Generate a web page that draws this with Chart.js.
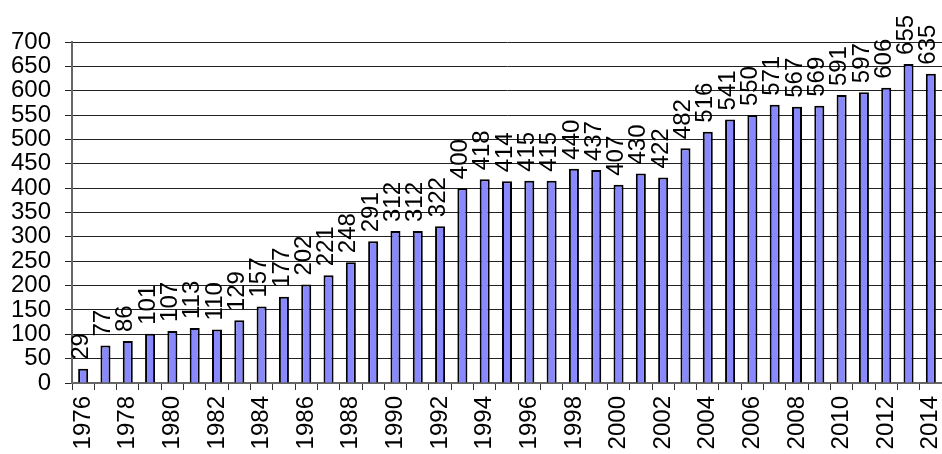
<!DOCTYPE html>
<html>
<head>
<meta charset="utf-8">
<script src="https://cdn.jsdelivr.net/npm/chart.js@4"></script>
<style>
  html, body { margin: 0; padding: 0; background: #fff; }
  #wrap { width: 942px; height: 454px; }
</style>
</head>
<body>
<div id="wrap"><canvas id="chart"></canvas></div>
<script>
const years = [];
for (let y = 1976; y <= 2014; y++) years.push(String(y));
const counts = [29, 77, 86, 101, 107, 113, 110, 129, 157, 177, 202, 221, 248, 291, 312, 312, 322,
  400, 418, 414, 415, 415, 440, 437, 407, 430, 422, 482, 516, 541, 550, 571, 567, 569, 591, 597, 606, 655, 635];
const yTicks = [0, 50, 100, 150, 200, 250, 300, 350, 400, 450, 500, 550, 600, 650, 700];

const FONT = "'Liberation Sans', Arial, sans-serif";

// value labels written upright above each bar
const barLabels = {
  id: "barLabels",
  afterDatasetsDraw(chart) {
    const ctx = chart.ctx;
    const meta = chart.getDatasetMeta(0);
    ctx.save();
    ctx.font = "24px " + FONT;
    ctx.fillStyle = "#000";
    ctx.textAlign = "left";
    ctx.textBaseline = "middle";
    meta.data.forEach((bar, i) => {
      ctx.save();
      ctx.translate(bar.x - 2, bar.y - 9);
      ctx.rotate(-Math.PI / 2);
      ctx.fillText(counts[i], 0, 0);
      ctx.restore();
    });
    ctx.restore();
  }
};

new Chart(document.getElementById("chart"), {
  type: "bar",
  data: {
    labels: years,
    datasets: [{
      data: counts,
      backgroundColor: "#8888ff",
      borderColor: "#000",
      borderWidth: 2,
      barPercentage: 0.45,
      categoryPercentage: 1.0
    }]
  },
  options: {
    responsive: true,
    maintainAspectRatio: false,
    animation: false,
    layout: { padding: { top: 42, right: 0, left: 0, bottom: 0 } },
    plugins: { legend: { display: false }, tooltip: { enabled: false } },
    scales: {
      x: {
        afterFit(scale) {
          scale.height = 71;
          scale.paddingLeft = 0;
          scale.paddingRight = 0;
        },
        grid: { offset: true, drawOnChartArea: false, tickLength: 7, color: "#333" },
        border: { color: "#666", width: 2 },
        ticks: {
          autoSkip: false,
          minRotation: 90,
          maxRotation: 90,
          color: "#000",
          padding: 6,
          font: { family: FONT, size: 24 },
          callback: function (v, i) { return i % 2 === 0 ? years[i] : ""; }
        }
      },
      y: {
        min: 0,
        max: 700,
        afterFit(scale) { scale.width = 72; },
        afterBuildTicks(scale) { scale.ticks = yTicks.map(v => ({ value: v })); },
        grid: { color: "#222", tickLength: 7, lineWidth: 1 },
        border: { color: "#666", width: 2 },
        ticks: {
          autoSkip: false,
          color: "#000",
          padding: 14,
          font: { family: FONT, size: 24 }
        }
      }
    }
  },
  plugins: [barLabels]
});
</script>
</body>
</html>
